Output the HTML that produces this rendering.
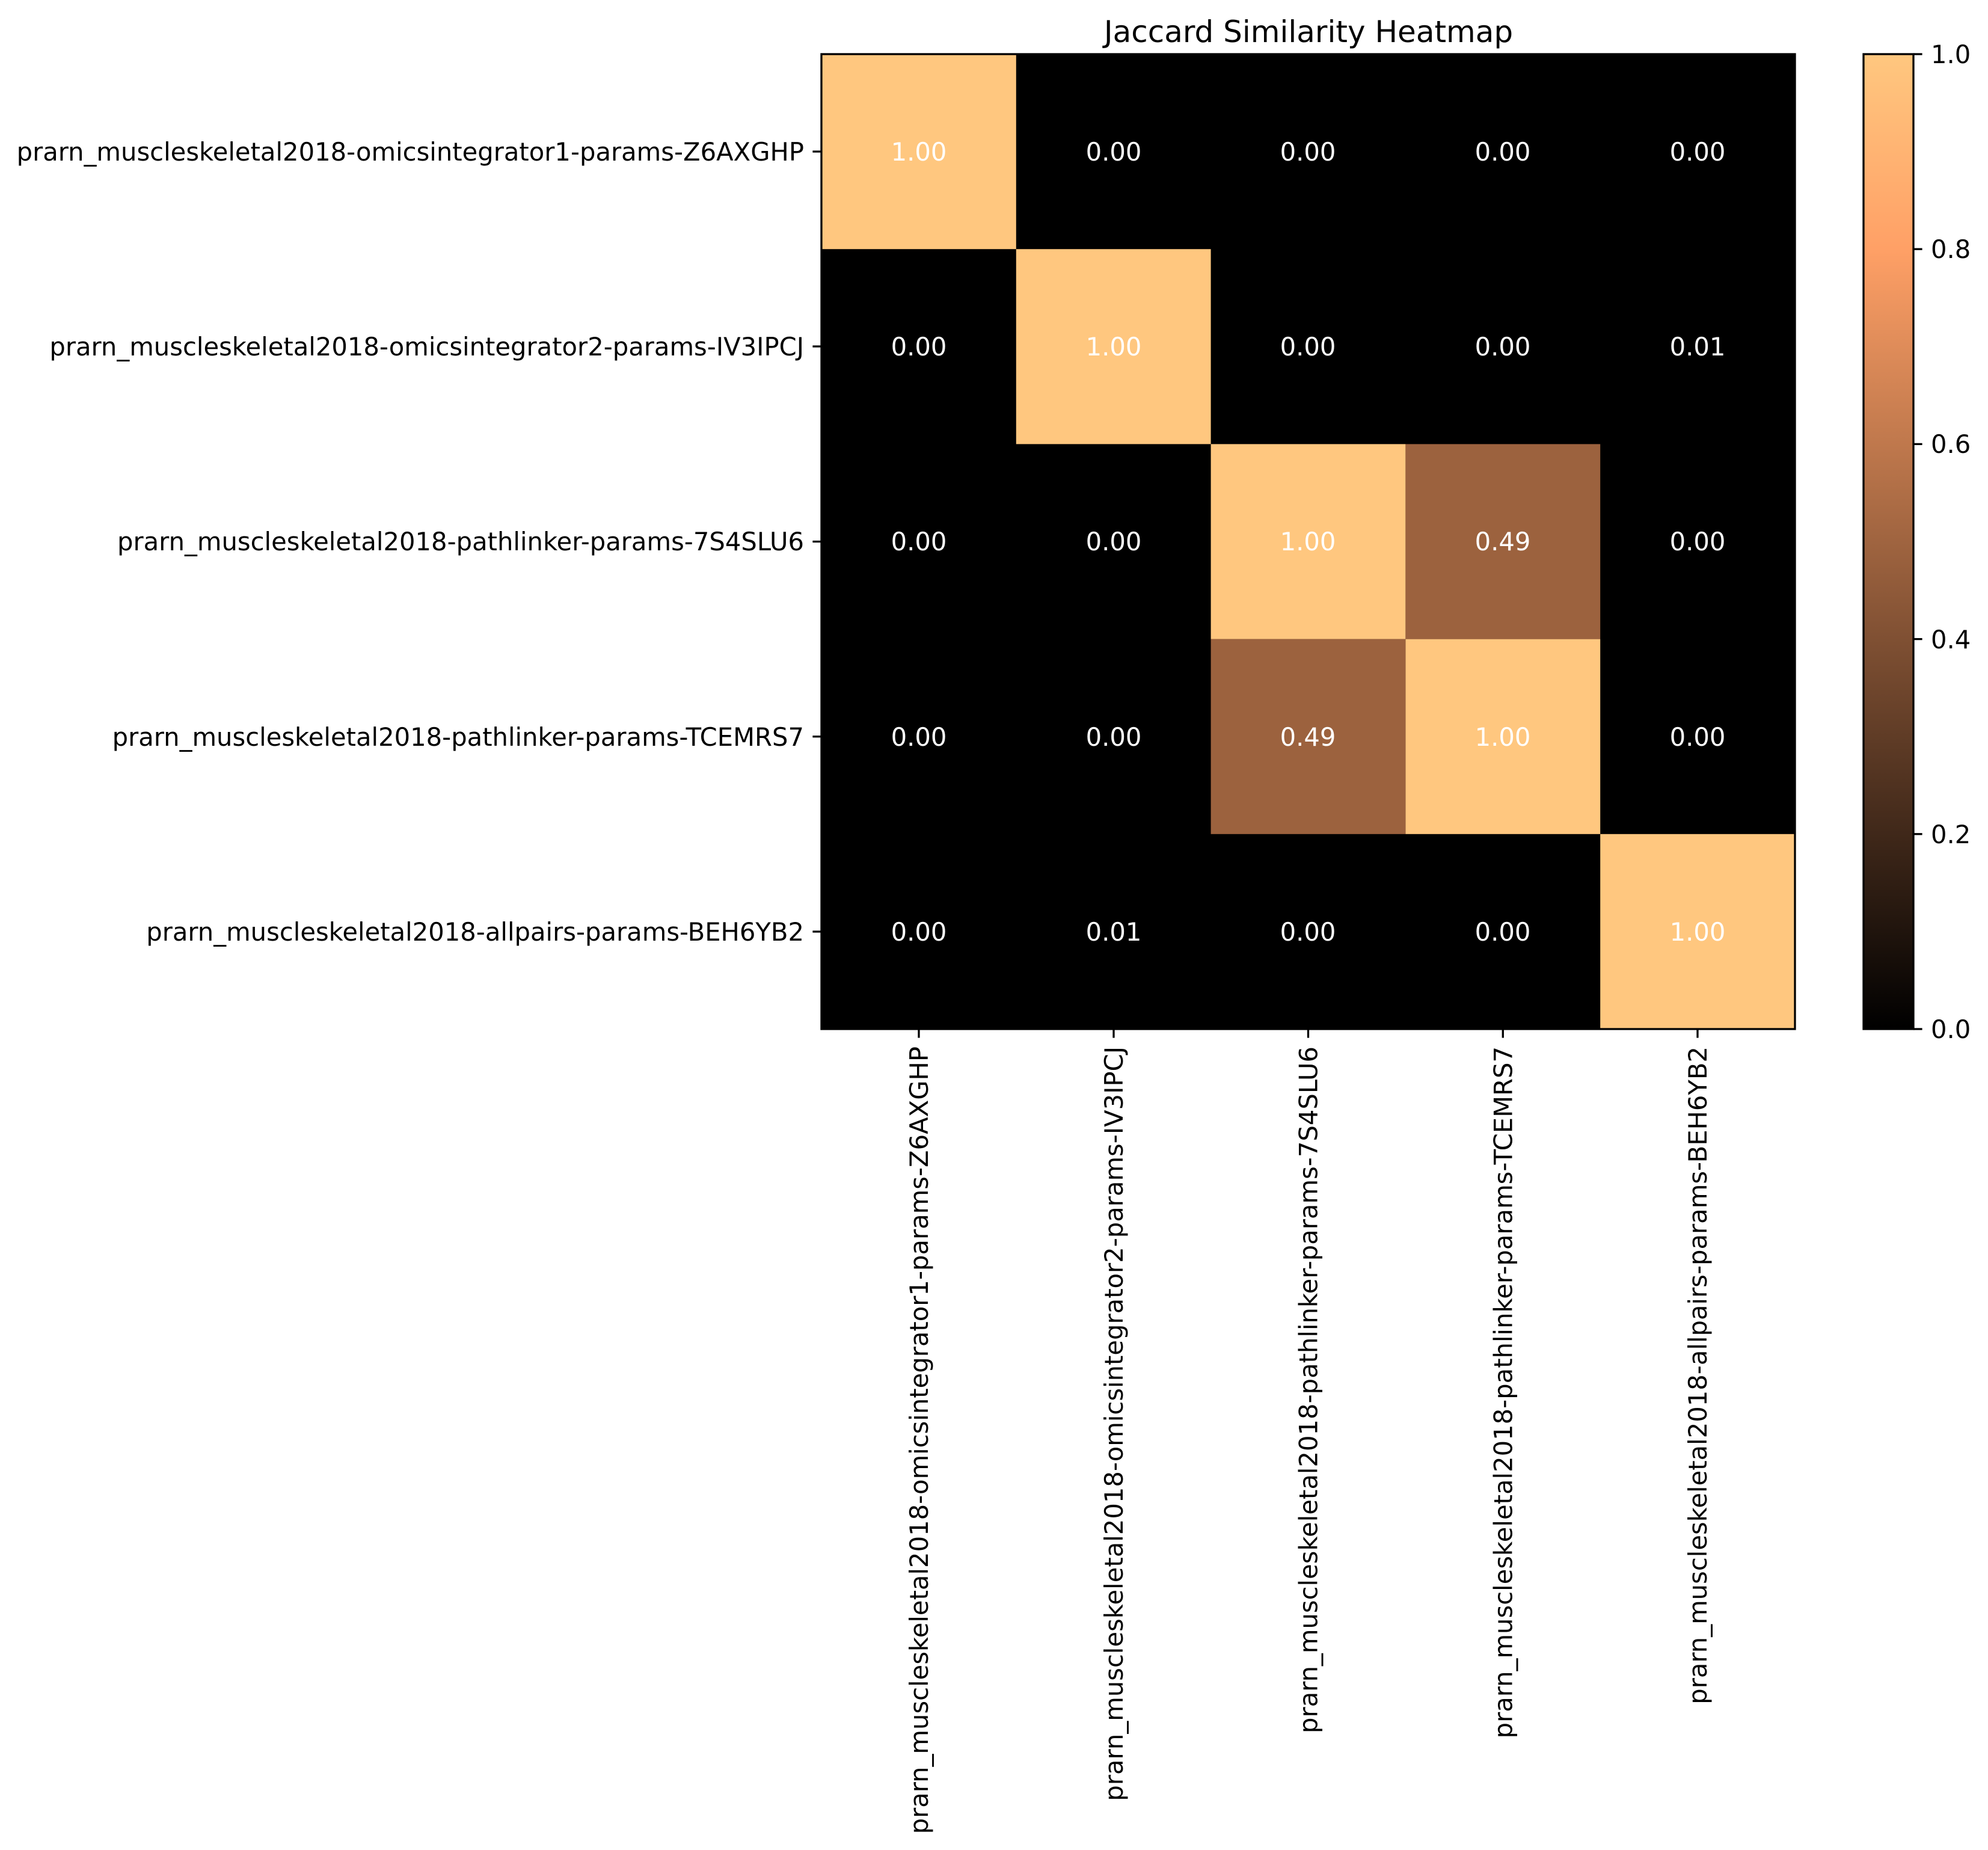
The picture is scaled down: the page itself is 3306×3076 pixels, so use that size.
<!DOCTYPE html>
<html><head><meta charset="utf-8"><style>html,body{margin:0;padding:0;background:#fff}svg{display:block}</style></head>
<body>
<svg xmlns="http://www.w3.org/2000/svg" width="3306" height="3076" viewBox="0 0 3306 3076" font-family="'DejaVu Sans','Liberation Sans',sans-serif">
<defs>
<linearGradient id="cm" x1="0" y1="1" x2="0" y2="0">
<stop offset="0" stop-color="#000000"/>
<stop offset="0.8" stop-color="#ffa066"/>
<stop offset="1" stop-color="#ffc77f"/>
</linearGradient>
</defs>
<rect width="3306" height="3076" fill="#fff"/>
<text x="2176" y="70" font-size="50" text-anchor="middle">Jaccard Similarity Heatmap</text>
<!-- heatmap: left 1366, right 2985, top 90, bottom 1711; cell w 323.8, h 324.2 -->
<rect x="1366" y="90" width="1619" height="1621" fill="#000"/>
<g fill="#ffc77f">
<rect x="1366" y="90" width="323.8" height="324.2"/>
<rect x="1689.8" y="414.2" width="323.8" height="324.2"/>
<rect x="2013.6" y="738.4" width="323.8" height="324.2"/>
<rect x="2337.4" y="1062.6" width="323.8" height="324.2"/>
<rect x="2661.2" y="1386.8" width="323.8" height="324.2"/>
</g>
<g fill="#9c623e">
<rect x="2337.4" y="738.4" width="323.8" height="324.2"/>
<rect x="2013.6" y="1062.6" width="323.8" height="324.2"/>
</g>
<rect x="1366" y="90" width="1619" height="1621" fill="none" stroke="#000" stroke-width="3.3"/>
<g fill="#fff" font-size="41.7" text-anchor="middle">
<text x="1528" y="267">1.00</text><text x="1852" y="267">0.00</text><text x="2175" y="267">0.00</text><text x="2499" y="267">0.00</text><text x="2823" y="267">0.00</text>
<text x="1528" y="591">0.00</text><text x="1852" y="591">1.00</text><text x="2175" y="591">0.00</text><text x="2499" y="591">0.00</text><text x="2823" y="591">0.01</text>
<text x="1528" y="915">0.00</text><text x="1852" y="915">0.00</text><text x="2175" y="915">1.00</text><text x="2499" y="915">0.49</text><text x="2823" y="915">0.00</text>
<text x="1528" y="1240">0.00</text><text x="1852" y="1240">0.00</text><text x="2175" y="1240">0.49</text><text x="2499" y="1240">1.00</text><text x="2823" y="1240">0.00</text>
<text x="1528" y="1564">0.00</text><text x="1852" y="1564">0.01</text><text x="2175" y="1564">0.00</text><text x="2499" y="1564">0.00</text><text x="2823" y="1564">1.00</text>
</g>
<!-- y ticks -->
<g stroke="#000" stroke-width="3.3">
<line x1="1351.4" y1="252" x2="1366" y2="252"/><line x1="1351.4" y1="576" x2="1366" y2="576"/><line x1="1351.4" y1="900.5" x2="1366" y2="900.5"/><line x1="1351.4" y1="1224.7" x2="1366" y2="1224.7"/><line x1="1351.4" y1="1549" x2="1366" y2="1549"/>
<line x1="1528" y1="1711" x2="1528" y2="1725.6"/><line x1="1852" y1="1711" x2="1852" y2="1725.6"/><line x1="2175.5" y1="1711" x2="2175.5" y2="1725.6"/><line x1="2499.3" y1="1711" x2="2499.3" y2="1725.6"/><line x1="2823" y1="1711" x2="2823" y2="1725.6"/>
</g>
<g font-size="41.7" text-anchor="end">
<text x="1337" y="267">prarn_muscleskeletal2018-omicsintegrator1-params-Z6AXGHP</text>
<text x="1337" y="591">prarn_muscleskeletal2018-omicsintegrator2-params-IV3IPCJ</text>
<text x="1337" y="915">prarn_muscleskeletal2018-pathlinker-params-7S4SLU6</text>
<text x="1337" y="1240">prarn_muscleskeletal2018-pathlinker-params-TCEMRS7</text>
<text x="1337" y="1564">prarn_muscleskeletal2018-allpairs-params-BEH6YB2</text>
</g>
<g font-size="41.7" text-anchor="end">
<text transform="translate(1543,1740) rotate(-90)">prarn_muscleskeletal2018-omicsintegrator1-params-Z6AXGHP</text>
<text transform="translate(1867,1740) rotate(-90)">prarn_muscleskeletal2018-omicsintegrator2-params-IV3IPCJ</text>
<text transform="translate(2190.5,1740) rotate(-90)">prarn_muscleskeletal2018-pathlinker-params-7S4SLU6</text>
<text transform="translate(2514.3,1740) rotate(-90)">prarn_muscleskeletal2018-pathlinker-params-TCEMRS7</text>
<text transform="translate(2838,1740) rotate(-90)">prarn_muscleskeletal2018-allpairs-params-BEH6YB2</text>
</g>
<!-- colorbar -->
<rect x="3099" y="90" width="83" height="1621" fill="url(#cm)" stroke="#000" stroke-width="3.3"/>
<g stroke="#000" stroke-width="3.3">
<line x1="3182" y1="90" x2="3196.6" y2="90"/><line x1="3182" y1="414.2" x2="3196.6" y2="414.2"/><line x1="3182" y1="738.4" x2="3196.6" y2="738.4"/><line x1="3182" y1="1062.6" x2="3196.6" y2="1062.6"/><line x1="3182" y1="1386.8" x2="3196.6" y2="1386.8"/><line x1="3182" y1="1711" x2="3196.6" y2="1711"/>
</g>
<g font-size="41.7">
<text x="3211" y="105">1.0</text><text x="3211" y="429">0.8</text><text x="3211" y="753">0.6</text><text x="3211" y="1078">0.4</text><text x="3211" y="1402">0.2</text><text x="3211" y="1726">0.0</text>
</g>
</svg>
</body></html>
